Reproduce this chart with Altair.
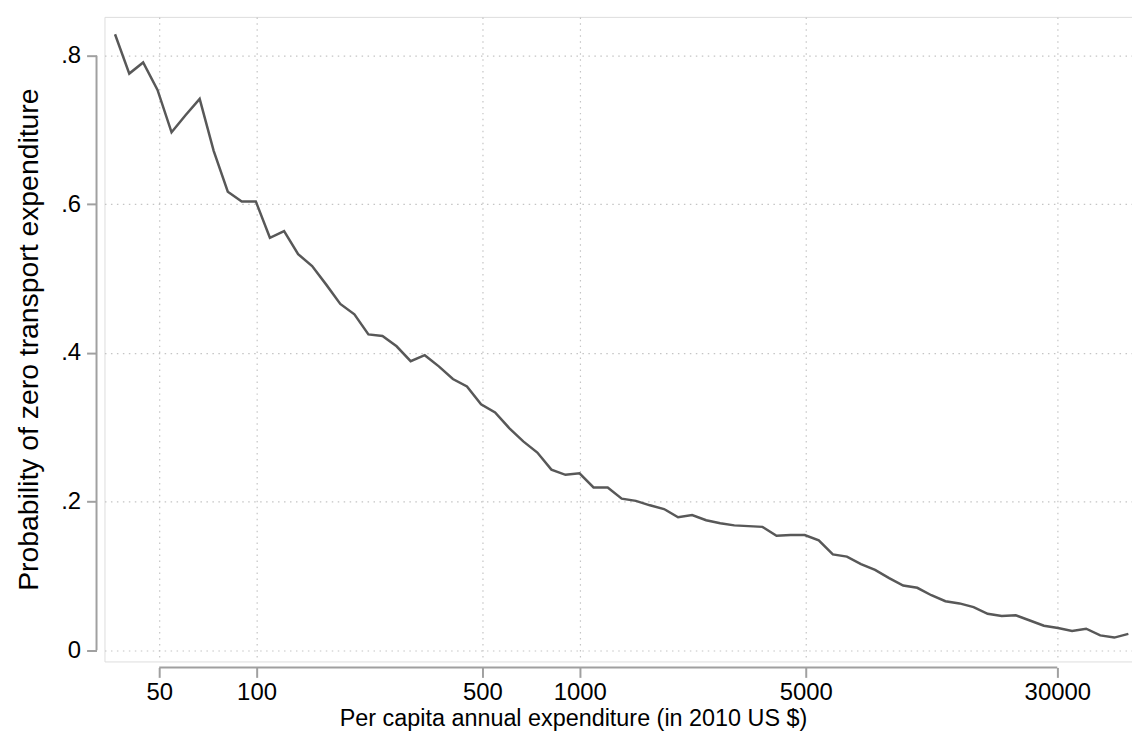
import altair as alt
import pandas as pd

# Per capita annual expenditure (2010 US $), log-spaced bins
expenditure = [36.5, 40.4, 44.6, 49.4, 54.6, 60.3, 66.7, 73.7, 81.5, 90.0,
               99.5, 110.0, 121.7, 134.5, 148.6, 164.3, 181.6, 200.8, 221.9, 245.3,
               271.2, 299.8, 331.4, 366.4, 405.0, 447.7, 494.9, 547.0, 604.8, 668.6,
               739.1, 816.9, 903.2, 998.2, 1103, 1220, 1348, 1491, 1648, 1822,
               2014, 2226, 2460, 2720, 3006, 3324, 3674, 4061, 4490, 4963,
               5486, 6065, 6704, 7411, 8193, 9057, 10010, 11066, 12234, 13523,
               14949, 16527, 18268, 20194, 22325, 24678, 27279, 30155, 33335, 36849,
               40737, 45030, 49775]

# Probability of zero transport expenditure
probability = [0.829, 0.776, 0.791, 0.754, 0.697, 0.720, 0.742, 0.672, 0.617, 0.604,
               0.604, 0.555, 0.564, 0.533, 0.517, 0.492, 0.466, 0.452, 0.425, 0.423,
               0.409, 0.389, 0.397, 0.382, 0.365, 0.355, 0.331, 0.320, 0.299, 0.281,
               0.266, 0.243, 0.236, 0.238, 0.219, 0.219, 0.204, 0.201, 0.195, 0.190,
               0.179, 0.182, 0.175, 0.171, 0.168, 0.167, 0.166, 0.154, 0.155, 0.155,
               0.148, 0.129, 0.126, 0.116, 0.108, 0.097, 0.087, 0.084, 0.074, 0.066,
               0.063, 0.058, 0.049, 0.046, 0.047, 0.040, 0.033, 0.030, 0.026, 0.029,
               0.020, 0.017, 0.022]

x_ticks = [50, 100, 500, 1000, 5000, 30000]
y_ticks = [0, 0.2, 0.4, 0.6, 0.8]

x_domain = [33.86, 51080]
y_domain = [-0.0151, 0.8523]

df = pd.DataFrame({"exp": expenditure, "prob": probability})

FONT = "Liberation Sans"
AXIS_GRAY = "#a0a0a0"
GRID_GRAY = "#c4c4c4"

x_scale = alt.Scale(type="log", domain=x_domain, nice=False)
y_scale = alt.Scale(domain=y_domain, nice=False, zero=False)

line = alt.Chart(df).mark_line(color="#585858", strokeWidth=2.5).encode(
    x=alt.X("exp:Q", scale=x_scale,
            axis=alt.Axis(values=x_ticks, format="d", title="Per capita annual expenditure (in 2010 US $)",
                          offset=6, domain=False, tickSize=10, tickWidth=2, tickColor=AXIS_GRAY,
                          labelPadding=3, labelFontSize=24, labelFont=FONT, labelColor="black",
                          titleFontSize=23.5, titleFont=FONT, titleFontWeight="normal", titleColor="black",
                          titlePadding=2, titleX=471, grid=True, gridColor=GRID_GRAY, gridDash=[1.5, 4.5],
                          gridWidth=1.2)),
    y=alt.Y("prob:Q", scale=y_scale,
            axis=alt.Axis(values=y_ticks, labelExpr="datum.value == 0 ? '0' : '.' + format(datum.value*10, 'd')",
                          title="Probability of zero transport expenditure",
                          offset=8, domain=False, tickSize=10, tickWidth=2, tickColor=AXIS_GRAY,
                          labelPadding=6, labelFontSize=24, labelFont=FONT, labelColor="black",
                          labelAngle=0,
                          titleFontSize=28.5, titleFont=FONT, titleFontWeight="normal", titleColor="black",
                          titlePadding=17, grid=True, gridColor=GRID_GRAY, gridDash=[1.5, 4.5],
                          gridWidth=1.2)),
)

yaxis_df = pd.DataFrame({"y": [y_ticks[0]], "y2": [y_ticks[-1]]})
xaxis_df = pd.DataFrame({"x": [x_ticks[0]], "x2": [x_ticks[-1]]})

yaxis_line = alt.Chart(yaxis_df).mark_rule(color=AXIS_GRAY, strokeWidth=2).encode(
    x=alt.value(-8), y=alt.Y("y:Q", scale=y_scale), y2="y2:Q"
)
xaxis_line = alt.Chart(xaxis_df).mark_rule(color=AXIS_GRAY, strokeWidth=2).encode(
    y=alt.value(648 + 6), x=alt.X("x:Q", scale=x_scale), x2="x2:Q"
)

chart = alt.layer(line, yaxis_line, xaxis_line).properties(
    width=1033, height=648,
    autosize=alt.AutoSizeParams(type="none"),
    padding={"left": 97, "top": 7, "right": 0, "bottom": 70},
).configure_view(stroke=None).configure(background="white")

chart.save("out.html", embed_options={"renderer": "svg", "actions": False})
